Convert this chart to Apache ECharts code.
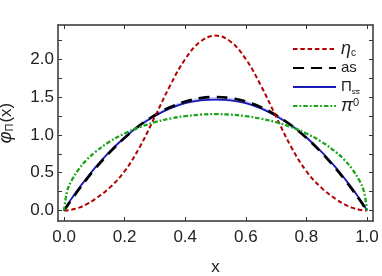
<!DOCTYPE html>
<html><head><meta charset="utf-8">
<script src="https://cdn.jsdelivr.net/npm/echarts@6/dist/echarts.min.js"></script>
<style>html,body{margin:0;padding:0;background:#fff}#c{width:382px;height:276px}</style>
</head><body><div id="c"></div>
<script>
var xs = [0,0.01,0.025,0.05,0.075,0.1,0.15,0.2,0.25,0.3,0.35,0.4,0.45,0.5,0.55,0.6,0.65,0.7,0.75,0.8,0.85,0.9,0.925,0.95,0.975,0.99,1];
var etaC = [0,0.003,0.012,0.04,0.085,0.145,0.30,0.52,0.84,1.24,1.65,2.00,2.23,2.31,2.23,2.00,1.65,1.24,0.84,0.52,0.30,0.145,0.085,0.04,0.012,0.003,0];
var asy = [0,0.059,0.146,0.285,0.416,0.54,0.765,0.96,1.125,1.26,1.365,1.44,1.485,1.5,1.485,1.44,1.365,1.26,1.125,0.96,0.765,0.54,0.416,0.285,0.146,0.059,0];
var piSS = [0,0.07,0.16,0.30,0.43,0.555,0.775,0.965,1.125,1.25,1.35,1.42,1.455,1.465,1.455,1.42,1.35,1.25,1.125,0.965,0.775,0.555,0.43,0.30,0.16,0.07,0];
var piSSLow = [0,0.065,0.152,0.29,0.42,0.543,0.763,0.953,1.113,1.238,1.338,1.408,1.443,1.453,1.443,1.408,1.338,1.238,1.113,0.953,0.763,0.543,0.42,0.29,0.152,0.065,0];
var piSSHigh = [0,0.075,0.17,0.315,0.448,0.575,0.797,0.99,1.152,1.28,1.382,1.455,1.49,1.50,1.49,1.455,1.382,1.28,1.152,0.99,0.797,0.575,0.448,0.315,0.17,0.075,0];
var pi0 = [0,0.253,0.397,0.555,0.671,0.764,0.909,1.018,1.103,1.167,1.214,1.247,1.267,1.273,1.267,1.247,1.214,1.167,1.103,1.018,0.909,0.764,0.671,0.555,0.397,0.253,0];
var xTicks = [0,0.2,0.4,0.6,0.8,1.0];
var yLabels = [0,0.5,1.0,1.5,2.0];
var yTicks = [0,0.25,0.5,0.75,1.0,1.25,1.5,1.75,2.0,2.25];

function pairs(ys){ return xs.map(function(x,i){ return [x, ys[i]]; }); }

var axisCol = '#333';
var font = 'Liberation Sans, Arial, sans-serif';
var chart = echarts.init(document.getElementById('c'), null, {renderer:'canvas'});
var baseX = {type:'value', min:-0.02, max:1.02, splitLine:{show:false},
  axisLine:{show:true, onZero:false, lineStyle:{color:axisCol, width:1.5}},
  axisTick:{show:true, inside:true, length:4, customValues:xTicks, lineStyle:{color:axisCol, width:1}}};
var baseY = {type:'value', min:-0.137, max:2.45, splitLine:{show:false},
  axisLine:{show:true, onZero:false, lineStyle:{color:axisCol, width:1.5}},
  axisTick:{show:true, inside:true, length:4, customValues:yTicks, lineStyle:{color:axisCol, width:1}}};

var legendNames = {'etac':'{i|η}{sub|c}', 'as':'{n|as}', 'piss':'{n|Π}{sub2|ss\u0305}', 'pi0':'{i|π}{sup|0}'};

chart.setOption({
  animation:false,
  grid:{left:58, right:9, top:25, bottom:55, containLabel:false, outerBoundsMode:'none'},
  xAxis:[
    Object.assign({}, baseX, {position:'bottom', name:'x', nameLocation:'middle', nameGap:38,
      nameTextStyle:{fontFamily:font, fontSize:17, color:'#222'},
      axisLabel:{show:true, customValues:xTicks, margin:8, fontFamily:font, fontSize:17, color:'#222',
        formatter:function(v){return v.toFixed(1);}}}),
    Object.assign({}, baseX, {position:'top', axisLabel:{show:false}})
  ],
  yAxis:[
    Object.assign({}, baseY, {position:'left', name:'{i|φ}{sub|Π}{n|(x)}', nameLocation:'middle', nameRotate:90, nameGap:43,
      nameTextStyle:{fontFamily:font, fontSize:17, color:'#222',
        rich:{i:{fontFamily:font, fontSize:18, fontStyle:'italic', color:'#222', verticalAlign:'middle'},
              sub:{fontFamily:font, fontSize:11, color:'#222', verticalAlign:'bottom', padding:[0,1,0,0]},
              n:{fontFamily:font, fontSize:17, color:'#222', verticalAlign:'middle'}}},
      axisLabel:{show:true, customValues:yLabels, margin:4, fontFamily:font, fontSize:17, color:'#222',
        formatter:function(v){return v.toFixed(1);}}}),
    Object.assign({}, baseY, {position:'right', axisLabel:{show:false}})
  ],
  legend:{
    orient:'vertical', left:287, top:35, itemWidth:43, itemHeight:14, itemGap:1,
    data:['etac','as','piss','pi0'],
    itemStyle:{opacity:0},
    formatter:function(n){return legendNames[n];},
    textStyle:{fontFamily:font, fontSize:15, color:'#222', lineHeight:18,
      rich:{i:{fontFamily:font, fontSize:18, fontStyle:'italic', color:'#222', lineHeight:18},
            n:{fontFamily:font, fontSize:15, color:'#222', lineHeight:18},
            sub:{fontFamily:font, fontSize:10, color:'#222', verticalAlign:'bottom', lineHeight:18},
            sub2:{fontFamily:font, fontSize:8, color:'#222', verticalAlign:'bottom', lineHeight:18},
            sup:{fontFamily:font, fontSize:11, color:'#222', verticalAlign:'top', lineHeight:18}}}
  },
  series:[
    {name:'band', type:'custom', data:[[0,0]], silent:true, z:1,
      renderItem:function(params, api){
        if (params.dataIndex !== 0) return;
        var pts = [];
        for (var i = 0; i < xs.length; i++) pts.push(api.coord([xs[i], piSSHigh[i]]));
        for (var j = xs.length - 1; j >= 0; j--) pts.push(api.coord([xs[j], piSSLow[j]]));
        return {type:'polygon', shape:{points:pts}, style:{fill:'rgba(150,150,255,0.5)'}};
      }},
    {name:'piss', type:'line', data:pairs(piSS), symbol:'none', smooth:0.4, z:3,
      itemStyle:{color:'#1a1ab8'}, lineStyle:{color:'#1a1ab8', width:1.8}},
    {name:'as', type:'line', data:pairs(asy), symbol:'none', smooth:0.4, z:4,
      itemStyle:{color:'#000'}, lineStyle:{color:'#000', width:2.6, type:[11,7]}},
    {name:'etac', type:'line', data:pairs(etaC), symbol:'none', smooth:0.4, z:5,
      itemStyle:{color:'#b30000'}, lineStyle:{color:'#b30000', width:2, type:[4.5,2.8]}},
    {name:'pi0', type:'line', data:pairs(pi0), symbol:'none', smooth:0.4, z:6,
      itemStyle:{color:'#1aa51a'}, lineStyle:{color:'#1aa51a', width:2.3, type:[4.5,2,1.8,2]}}
  ]
});
</script></body></html>
